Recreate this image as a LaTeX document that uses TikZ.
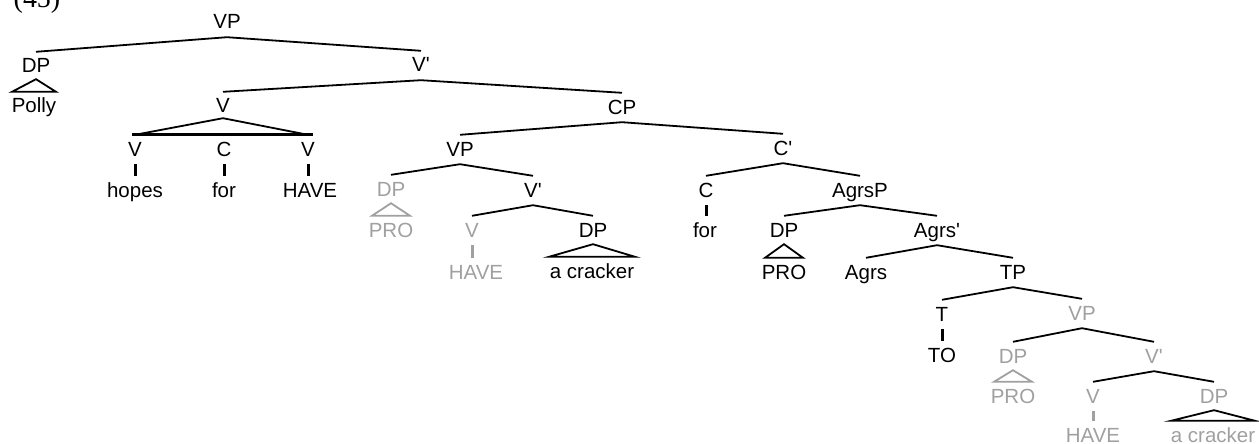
\documentclass[tikz,border=0pt]{standalone}
\usepackage{fontspec}
\setmainfont{Liberation Sans}
\newfontfamily\labfont{Liberation Sans}
\newfontfamily\exnumfont{Liberation Serif}
\definecolor{trace}{RGB}{160,160,160}
\tikzset{
  lab/.style={anchor=base, font=\labfont\fontsize{20.5}{24}\selectfont, text height=14pt, text depth=1pt, inner xsep=1pt, inner ysep=7pt},
  gr/.style={text=trace},
  br/.style={line width=1.8pt},
  vtick/.style={line width=3pt},
  tri/.style={line width=1.8pt, line join=miter},
}
\begin{document}
\begin{tikzpicture}[x=1pt,y=-1pt]
\useasboundingbox (0,0) rectangle (1259,444);
\clip (0,0) rectangle (1259,444);
\node[anchor=base, inner sep=0pt, font=\exnumfont\fontsize{28}{30}\selectfont] (ex) at (37,8) {(45)};
% nodes
\node[lab] (vp0) at (227,29) {VP};
\node[lab] (dp1) at (36,73) {DP};
\node[lab] (polly) at (34,113) {Polly};
\node[lab] (vb1) at (421,72) {V'};
\node[lab] (vc) at (223,113) {V};
\node[lab] (v1) at (135,156) {V};
\node[lab] (c1) at (224,156) {C};
\node[lab] (v2) at (308,156) {V};
\node[lab] (hopes) at (135,197) {hopes};
\node[lab] (for1) at (224,197) {for};
\node[lab] (have1) at (310,197) {HAVE};
\node[lab] (cp) at (622,114) {CP};
\node[lab] (vp2) at (460,156) {VP};
\node[lab,gr] (dp2) at (391,196) {DP};
\node[lab,gr] (pro2) at (391,237) {PRO};
\node[lab] (vb2) at (533,197) {V'};
\node[lab,gr] (v3) at (472,237) {V};
\node[lab,gr] (have2) at (476,279) {HAVE};
\node[lab] (dp3) at (593,237) {DP};
\node[lab] (cr1) at (592,278) {a cracker};
\node[lab] (cb) at (783,155) {C'};
\node[lab] (c2) at (706,197) {C};
\node[lab] (for2) at (705,237) {for};
\node[lab] (agrsp) at (860,197) {AgrsP};
\node[lab] (dp4) at (784,237) {DP};
\node[lab] (pro4) at (784,279) {PRO};
\node[lab] (agrsb) at (937,237) {Agrs'};
\node[lab] (agrs) at (866,279) {Agrs};
\node[lab] (tp) at (1013,279) {TP};
\node[lab] (t) at (942,321) {T};
\node[lab] (to) at (942,362) {TO};
\node[lab,gr] (vp5) at (1082,320) {VP};
\node[lab,gr] (dp5) at (1013,363) {DP};
\node[lab,gr] (pro5) at (1013,403) {PRO};
\node[lab,gr] (vb5) at (1154,363) {V'};
\node[lab,gr] (v6) at (1093,403) {V};
\node[lab,gr] (have6) at (1093,442) {HAVE};
\node[lab,gr] (dp6) at (1214,403) {DP};
\node[lab,gr] (cr6) at (1213,442) {a cracker};
% branches
\draw[br] (vp0.south) -- (dp1.north);
\draw[br] (vp0.south) -- (vb1.north);
\draw[br] (vb1.south) -- (vc.north);
\draw[br] (vb1.south) -- (cp.north);
\draw[br] (cp.south) -- (vp2.north);
\draw[br] (cp.south) -- (cb.north);
\draw[br] (vp2.south) -- (dp2.north);
\draw[br] (vp2.south) -- (vb2.north);
\draw[br] (vb2.south) -- (v3.north);
\draw[br] (vb2.south) -- (dp3.north);
\draw[br] (cb.south) -- (c2.north);
\draw[br] (cb.south) -- (agrsp.north);
\draw[br] (agrsp.south) -- (dp4.north);
\draw[br] (agrsp.south) -- (agrsb.north);
\draw[br] (agrsb.south) -- (agrs.north);
\draw[br] (agrsb.south) -- (tp.north);
\draw[br] (tp.south) -- (t.north);
\draw[br] (tp.south) -- (vp5.north);
\draw[br] (vp5.south) -- (dp5.north);
\draw[br] (vp5.south) -- (vb5.north);
\draw[br] (vb5.south) -- (v6.north);
\draw[br] (vb5.south) -- (dp6.north);
% flat V triangle
\draw[tri] ([yshift=3pt]vc.south) -- (v1.north);
\draw[tri] ([yshift=3pt]vc.south) -- (v2.north);
\draw[line width=3pt] ([xshift=-3pt]v1.north) -- ([xshift=5pt]v2.north);
% ticks
\draw[vtick] (v1.south) -- (v1.south |- hopes.north);
\draw[vtick] (c1.south) -- (c1.south |- for1.north);
\draw[vtick] (v2.south) -- (v2.south |- have1.north);
\draw[vtick,trace] (v3.south) -- (v3.south |- have2.north);
\draw[vtick] (c2.south) -- (c2.south |- for2.north);
\draw[vtick] (t.south) -- (t.south |- to.north);
\draw[vtick,trace] (v6.south) -- (v6.south |- have6.north);
% DP triangles
\draw[tri] ([yshift=2pt]dp1.south) -- ([xshift=-22pt]polly.north) -- ([xshift=22pt]polly.north) -- cycle;
\draw[tri,trace] ([yshift=1pt]dp2.south) -- ([xshift=-19pt]pro2.north) -- ([xshift=19pt]pro2.north) -- cycle;
\draw[tri] ([yshift=1pt]dp3.south) -- ([xshift=-43pt]cr1.north) -- ([xshift=43pt]cr1.north) -- cycle;
\draw[tri] ([yshift=1pt]dp4.south) -- ([xshift=-19pt]pro4.north) -- ([xshift=19pt]pro4.north) -- cycle;
\draw[tri,trace] ([yshift=1pt]dp5.south) -- ([xshift=-19pt]pro5.north) -- ([xshift=19pt]pro5.north) -- cycle;
\draw[tri] ([yshift=1pt]dp6.south) -- ([xshift=-42pt]cr6.north) -- ([xshift=42pt]cr6.north) -- cycle;
\end{tikzpicture}
\end{document}
